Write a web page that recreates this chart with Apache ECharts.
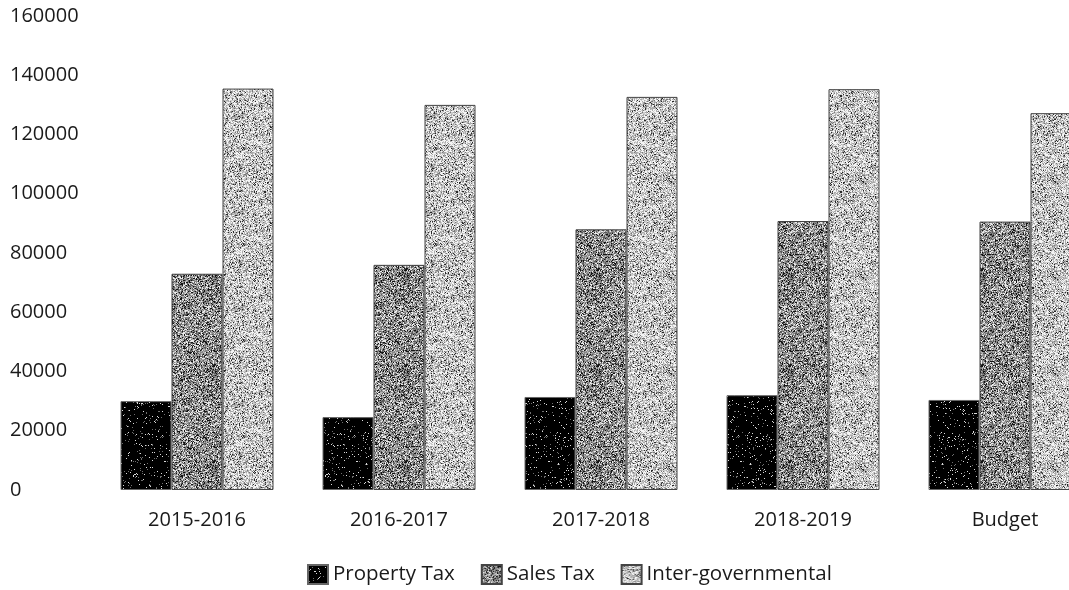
<!DOCTYPE html>
<html>
<head>
<meta charset="utf-8">
<script src="https://cdn.jsdelivr.net/npm/echarts@6/dist/echarts.min.js"></script>
<style>
  html, body { margin: 0; padding: 0; background: #fff; }
  #chart { width: 1069px; height: 590px; }
</style>
</head>
<body>
<div id="chart"></div>
<script>
// Revenue by source, per fiscal year
const categories = ['2015-2016', '2016-2017', '2017-2018', '2018-2019', 'Budget'];
const propertyTax = [30000, 24600, 31400, 32000, 30400];
const salesTax = [73000, 76000, 88000, 90800, 90600];
const interGovernmental = [135500, 130000, 132700, 135300, 127200];
const yTicks = { min: 0, max: 160000, step: 20000 };

// Grainy fill textures built from a small deterministic hash
function hash(x, y, s) {
  let h = (x * 374761393 + y * 668265263 + s * 2147483647) | 0;
  h = (h ^ (h >>> 13)) * 1274126177 | 0;
  h = h ^ (h >>> 16);
  return ((h >>> 0) % 10000) / 10000;
}
function grain(seed, palette) {
  const size = 96;
  const c = document.createElement('canvas');
  c.width = size; c.height = size;
  const ctx = c.getContext('2d');
  const img = ctx.createImageData(size, size);
  for (let y = 0; y < size; y++) {
    for (let x = 0; x < size; x++) {
      const r = hash(x, y, seed);
      let acc = 0, v = palette[palette.length - 1][0];
      for (const [tone, w] of palette) { acc += w; if (r < acc) { v = tone; break; } }
      const i = (y * size + x) * 4;
      img.data[i] = img.data[i + 1] = img.data[i + 2] = v;
      img.data[i + 3] = 255;
    }
  }
  ctx.putImageData(img, 0, 0);
  return { image: c, repeat: 'repeat' };
}
const fillProperty = grain(3, [[0, 0.94], [110, 0.03], [220, 0.03]]);
const fillSales = grain(7, [[20, 0.14], [90, 0.20], [135, 0.26], [180, 0.22], [235, 0.18]]);
const fillInter = grain(11, [[40, 0.07], [120, 0.13], [170, 0.25], [205, 0.25], [245, 0.30]]);

const textColor = '#1a1a1a';
const font = "'Open Sans', 'Liberation Sans', sans-serif";

const chart = echarts.init(document.getElementById('chart'), null, { renderer: 'canvas' });
chart.setOption({
  animation: false,
  backgroundColor: '#ffffff',
  grid: { left: 96, top: 16, width: 1010, height: 474, containLabel: false, outerBoundsMode: 'none' },
  legend: {
    left: 307, top: 564, padding: 0,
    itemWidth: 20, itemHeight: 19, itemGap: 26,
    icon: 'rect',
    textStyle: { color: textColor, fontSize: 20.5, fontFamily: font },
    data: ['Property Tax', 'Sales Tax', 'Inter-governmental']
  },
  xAxis: {
    type: 'category',
    data: categories,
    axisLine: { show: false },
    axisTick: { show: false },
    axisLabel: { color: textColor, fontSize: 20, fontFamily: font, margin: 20 }
  },
  yAxis: {
    type: 'value',
    min: yTicks.min, max: yTicks.max, interval: yTicks.step,
    axisLine: { show: false },
    axisTick: { show: false },
    splitLine: { show: false },
    axisLabel: {
      color: textColor, fontSize: 20, fontFamily: font, align: 'left', margin: 86,
      formatter: v => String(v)
    }
  },
  series: [
    { name: 'Property Tax', type: 'bar', data: propertyTax, barWidth: 51, barGap: '0%',
      itemStyle: { color: fillProperty, borderColor: '#666', borderWidth: 1 } },
    { name: 'Sales Tax', type: 'bar', data: salesTax, barWidth: 51, barGap: '0%',
      itemStyle: { color: fillSales, borderColor: '#444', borderWidth: 1 } },
    { name: 'Inter-governmental', type: 'bar', data: interGovernmental, barWidth: 51, barGap: '0%',
      itemStyle: { color: fillInter, borderColor: '#444', borderWidth: 1 } }
  ]
});
</script>
</body>
</html>
